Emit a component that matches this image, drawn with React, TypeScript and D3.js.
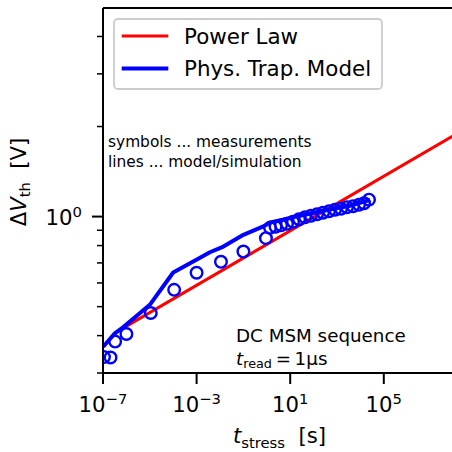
import React from 'react';
import * as d3 from 'd3';

// ---- data ----
const measT = [1.1e-7, 2.1e-7, 3.3e-7, 1.0e-6, 1.1e-5, 1.1e-4, 1.0e-3, 1.1e-2, 0.1, 0.92,
  1.37, 2.36, 4.05, 7.3, 13.2, 23.8, 42.9, 77.4, 140, 252, 455, 822, 1483, 2675, 4830, 8710, 14260, 23330];
const measV = [0.339, 0.338, 0.382, 0.405, 0.476, 0.569, 0.649, 0.706, 0.764, 0.847,
  0.917, 0.925, 0.935, 0.946, 0.961, 0.980, 0.995, 1.006, 1.018, 1.030, 1.042, 1.054, 1.062, 1.075, 1.083, 1.095, 1.108, 1.139];

const modelT = [1.02e-7, 3.2e-7, 7.4e-7, 1.0e-5, 1.0e-4, 1.4e-3, 3.7e-3, 1.4e-2, 0.1, 0.71, 1.37, 3.6, 26, 500, 3600, 2.6e4];
const modelV = [0.367, 0.407, 0.427, 0.507, 0.650, 0.728, 0.760, 0.794, 0.869, 0.927, 0.956, 0.971, 1.007, 1.055, 1.087, 1.138];

const powerT = [4e-7, 1e8];
const powerV = [0.4125, 1.87];

const xMajorTicks = [1e-7, 1e-3, 1e1, 1e5];
const xMajorExp = ['\u22127', '\u22123', '1', '5'];
const yMajorTicks = [1];
const yMajorExp = ['0'];
const yMinorTicks = [0.3, 0.4, 0.5, 0.6, 0.7, 0.8, 0.9, 2, 3, 4, 5];

const legendLabels = ['Power Law', 'Phys. Trap. Model'];
const legendColors = ['#ff0000', '#0000ff'];

const W = 452, H = 452;
const L = 103, R = 454, T = 8, B = 373;
const FONT = 'DejaVu Sans, sans-serif';
const FS = 21.2;
const FSS = 14.8;

export default function App() {
  const x = d3.scaleLog().domain([1e-7, 1e8]).range([L, R]);
  const y = d3.scaleLog().domain([0.3, 4.98]).range([B, T]);

  const line = d3.line<[number, number]>()
    .x(d => x(d[0]))
    .y(d => y(d[1]));

  const powerPath = line(powerT.map((t, i) => [t, powerV[i]]) as [number, number][]) || '';
  const modelPath = line(modelT.map((t, i) => [t, modelV[i]]) as [number, number][]) || '';

  const [yLo, yHi] = y.domain();

  return (
    <svg width={W} height={H} style={{ position: 'absolute', left: 0, top: 0, background: '#fff' }}
      fontFamily={FONT}>
      <defs>
        <clipPath id="plotclip">
          <rect x={L} y={T} width={R - L} height={B - T} />
        </clipPath>
      </defs>
      <rect x={0} y={0} width={W} height={H} fill="#fff" />

      <g clipPath="url(#plotclip)">
        <path d={powerPath} fill="none" stroke="#ff0000" strokeWidth={3} />
        <path d={modelPath} fill="none" stroke="#0000ff" strokeWidth={4} strokeLinejoin="round" />
        {measT.map((t, i) => (
          <circle key={i} cx={x(t)} cy={y(measV[i])} r={5.8} fill="none" stroke="#0000ff" strokeWidth={2.4} />
        ))}
      </g>

      {/* spines */}
      <line x1={L} x2={L} y1={T} y2={B} stroke="#000" strokeWidth={2} />
      <line x1={L} x2={R} y1={B} y2={B} stroke="#000" strokeWidth={2} />
      <line x1={L} x2={R} y1={T} y2={T} stroke="#000" strokeWidth={2} />

      {/* x ticks */}
      {xMajorTicks.map((t, i) => (
        <g key={i}>
          <line x1={x(t)} x2={x(t)} y1={B} y2={B + 11} stroke="#000" strokeWidth={2} />
          <text x={x(t)} y={411.5} textAnchor="middle" fontSize={FS}>
            10<tspan fontSize={FSS} dy={-8}>{xMajorExp[i]}</tspan>
          </text>
        </g>
      ))}

      {/* y ticks */}
      {yMinorTicks.filter(v => v >= yLo - 1e-9 && v <= yHi).map((v, i) => (
        <line key={i} x1={L - 6} x2={L} y1={y(v)} y2={y(v)} stroke="#000" strokeWidth={1.5} />
      ))}
      {yMajorTicks.map((v, i) => (
        <g key={i}>
          <line x1={L - 11} x2={L} y1={y(v)} y2={y(v)} stroke="#000" strokeWidth={2} />
          <text x={82} y={y(v) + 8.5} textAnchor="end" fontSize={FS}>
            10<tspan fontSize={FSS} dy={-8}>{yMajorExp[i]}</tspan>
          </text>
        </g>
      ))}

      {/* axis labels */}
      <text x={279.5} y={443} textAnchor="middle" fontSize={FS}>
        <tspan fontStyle="italic">t</tspan>
        <tspan fontSize={FSS} dy={4.5}>stress</tspan>
        <tspan dy={-4.5}>{'\u00a0\u00a0[s]'}</tspan>
      </text>
      <text transform="translate(25.5,182) rotate(-90)" textAnchor="middle" fontSize={FS}>
        <tspan>Δ</tspan>
        <tspan fontStyle="italic">V</tspan>
        <tspan fontSize={FSS} dy={4.5}>th</tspan>
        <tspan dy={-4.5}>{'\u00a0\u00a0[V]'}</tspan>
      </text>

      {/* annotations */}
      <text x={108} y={146.5} fontSize={15.4}>symbols ... measurements</text>
      <text x={108} y={166.5} fontSize={15.4}>lines ... model/simulation</text>
      <text x={236} y={342.3} fontSize={18.3}>DC MSM sequence</text>
      <text x={236} y={364.5} fontSize={18.3}>
        <tspan fontStyle="italic">t</tspan>
        <tspan fontSize={12.8} dy={3.8}>read</tspan>
        <tspan dy={-3.8}>{'\u2009=\u20091μs'}</tspan>
      </text>

      {/* legend */}
      <rect x={114} y={19} width={268} height={70} rx={4} fill="#fff" fillOpacity={0.8}
        stroke="#cccccc" strokeWidth={1.8} />
      {legendLabels.map((lab, i) => {
        const ly = 36 + i * 32.5;
        return (
          <g key={i}>
            <line x1={121.7} x2={168.3} y1={ly} y2={ly} stroke={legendColors[i]} strokeWidth={i === 0 ? 3 : 4} />
            <text x={184} y={ly + 7.8} fontSize={21.4}>{lab}</text>
          </g>
        );
      })}
    </svg>
  );
}
